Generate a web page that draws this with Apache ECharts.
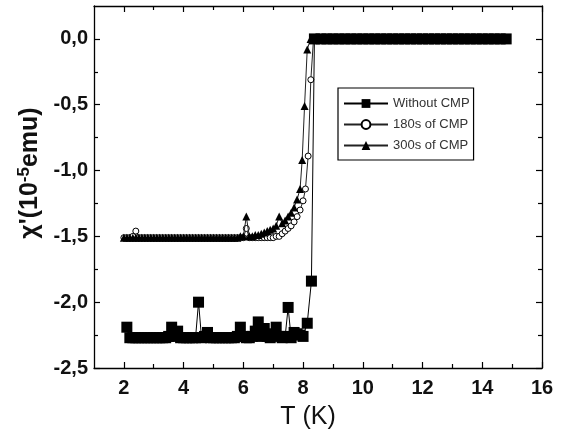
<!DOCTYPE html>
<html><head><meta charset="utf-8">
<script src="https://cdn.jsdelivr.net/npm/echarts@6/dist/echarts.min.js"></script>
<style>html,body{margin:0;padding:0;background:#fff}#c{width:562px;height:435px}</style>
</head><body><div id="c"></div>
<script>
// ---- tick values ----
const xMajorTicks = [2, 4, 6, 8, 10, 12, 14, 16];
const xMinorTicks = [3, 5, 7, 9, 11, 13, 15];
const yMajorTicks = [-2.5, -2, -1.5, -1, -0.5, 0];
const yMinorTicks = [-2.25, -1.75, -1.25, -0.75, -0.25];

// ---- series names ----
const seriesNames = ['Without CMP', '180s of CMP', '300s of CMP'];

// ---- Without CMP ----
const tempWithout = [2.1,2.2,2.3,2.4,2.5,2.6,2.7,2.8,2.9,3.0,3.1,3.2,3.3,3.4,3.5,3.6,3.7,3.8,3.9,4.0,
  4.1,4.2,4.3,4.4,4.5,4.6,4.7,4.8,4.9,5.0,5.1,5.2,5.3,5.4,5.5,5.6,5.7,5.8,5.9,6.0,
  6.1,6.2,6.3,6.4,6.5,6.6,6.7,6.8,6.9,7.0,7.1,7.2,7.3,7.4,7.5,7.6,7.7,7.8,7.9,8.0,
  8.14,8.28,8.38,8.6,8.8,9.0,9.2,9.4,9.6,9.8,10.0,10.2,10.4,10.6,10.8,11.0,11.2,11.4,11.6,11.8,12.0,12.2,12.4,12.6,12.8,13.0,13.2,13.4,13.6,13.8,14.0,14.2,14.4,14.6,14.8];
const chiWithout = [-2.19,-2.27,-2.27,-2.27,-2.27,-2.27,-2.27,-2.27,-2.27,-2.27,-2.27,-2.27,-2.27,-2.27,-2.26,-2.19,-2.26,-2.22,-2.27,-2.27,
  -2.27,-2.27,-2.27,-2.27,-2.00,-2.27,-2.26,-2.23,-2.27,-2.27,-2.27,-2.27,-2.27,-2.27,-2.27,-2.27,-2.27,-2.26,-2.19,-2.26,
  -2.27,-2.27,-2.26,-2.22,-2.15,-2.26,-2.20,-2.26,-2.27,-2.24,-2.19,-2.26,-2.27,-2.26,-2.04,-2.27,-2.23,-2.24,-2.25,-2.26,
  -2.16,-1.84,0,0,0,0,0,0,0,0,0,0,0,0,0,0,0,0,0,0,0,0,0,0,0,0,0,0,0,0,0,0,0,0,0];

// ---- 180s of CMP ----
const temp180 = [2.0,2.1,2.2,2.3,2.4,2.5,2.6,2.7,2.8,2.9,3.0,3.1,3.2,3.3,3.4,3.5,3.6,3.7,3.8,3.9,
  4.0,4.1,4.2,4.3,4.4,4.5,4.6,4.7,4.8,4.9,5.0,5.1,5.2,5.3,5.4,5.5,5.6,5.7,5.8,5.9,
  6.0,6.1,6.2,6.3,6.4,6.5,6.6,6.7,6.8,6.9,7.0,7.1,7.2,7.3,7.4,7.5,7.6,7.7,7.8,7.9,
  8.0,8.08,8.17,8.26,8.35,9.0,11.0,13.0,14.6];
const chi180 = [-1.51,-1.51,-1.51,-1.50,-1.46,-1.51,-1.51,-1.51,-1.51,-1.51,-1.51,-1.51,-1.51,-1.51,-1.51,-1.51,-1.51,-1.51,-1.51,-1.51,
  -1.51,-1.51,-1.51,-1.51,-1.51,-1.51,-1.51,-1.51,-1.51,-1.51,-1.51,-1.51,-1.51,-1.51,-1.51,-1.51,-1.51,-1.51,-1.51,-1.51,
  -1.51,-1.44,-1.51,-1.51,-1.51,-1.51,-1.51,-1.51,-1.51,-1.51,-1.51,-1.50,-1.50,-1.48,-1.46,-1.44,-1.42,-1.39,-1.35,-1.30,
  -1.23,-1.14,-0.89,-0.31,0,0,0,0,0];

// ---- 300s of CMP ----
const temp300 = [2.0,2.1,2.2,2.3,2.4,2.5,2.6,2.7,2.8,2.9,3.0,3.1,3.2,3.3,3.4,3.5,3.6,3.7,3.8,3.9,
  4.0,4.1,4.2,4.3,4.4,4.5,4.6,4.7,4.8,4.9,5.0,5.1,5.2,5.3,5.4,5.5,5.6,5.7,5.8,5.9,
  6.0,6.1,6.2,6.3,6.4,6.5,6.6,6.7,6.8,6.9,7.0,7.1,7.2,7.3,7.4,7.5,7.6,7.7,7.8,7.9,
  7.97,8.05,8.14,8.25,9.0,11.0,13.0,14.6];
const chi300 = [-1.51,-1.51,-1.51,-1.51,-1.51,-1.51,-1.51,-1.51,-1.51,-1.51,-1.51,-1.51,-1.51,-1.51,-1.51,-1.51,-1.51,-1.51,-1.51,-1.51,
  -1.51,-1.51,-1.51,-1.51,-1.51,-1.51,-1.51,-1.51,-1.51,-1.51,-1.51,-1.51,-1.51,-1.51,-1.51,-1.51,-1.51,-1.51,-1.51,-1.50,
  -1.50,-1.35,-1.50,-1.50,-1.49,-1.49,-1.48,-1.47,-1.46,-1.45,-1.44,-1.42,-1.35,-1.40,-1.38,-1.35,-1.32,-1.28,-1.22,-1.14,
  -0.92,-0.51,-0.08,0,0,0,0,0];

const FONT = '"Liberation Sans", Arial, Helvetica, sans-serif';
const INK = '#111';
function pairs(xs, ys) { return xs.map((x, i) => [x, ys[i]]); }

const lineAxis = { show: true, onZero: false, lineStyle: { color: '#000', width: 1.3 } };
const tickStyle = { color: '#000', width: 1.2 };

function xAx(pos, ticks, len, withLine, withLabel) {
  const a = {
    type: 'value', min: 1, max: 16, position: pos,
    axisLine: withLine ? lineAxis : { show: false, onZero: false },
    axisTick: { show: true, inside: true, length: len, customValues: ticks, lineStyle: tickStyle },
    axisLabel: { show: false },
    splitLine: { show: false }
  };
  if (withLabel) {
    a.axisLabel = { show: true, customValues: xMajorTicks, fontSize: 20, fontWeight: 'bold', fontFamily: FONT, color: INK, margin: 10 };
    a.name = 'T (K)';
    a.nameLocation = 'middle';
    a.nameGap = 37;
    a.nameTextStyle = { fontSize: 25, fontFamily: FONT, color: INK, padding: [0, 20, 0, 0] };
  }
  return a;
}
function yAx(pos, ticks, len, withLine, withLabel) {
  const a = {
    type: 'value', min: -2.5, max: 0.25, position: pos,
    axisLine: withLine ? lineAxis : { show: false, onZero: false },
    axisTick: { show: true, inside: true, length: len, customValues: ticks, lineStyle: tickStyle },
    axisLabel: { show: false },
    splitLine: { show: false }
  };
  if (withLabel) {
    a.axisLabel = { show: true, customValues: yMajorTicks, fontSize: 20, fontWeight: 'bold', fontFamily: FONT, color: INK, margin: 6,
      formatter: v => v.toFixed(1).replace('.', ',') };
    a.name = "{a|χ'(10}{s|-5}{a|emu)}";
    a.nameLocation = 'middle';
    a.nameGap = 39;
    a.nameTextStyle = {
      padding: [0, 0, 0, 28],
      rich: {
        a: { fontSize: 25, fontWeight: 'bold', fontFamily: FONT, color: INK, lineHeight: 28 },
        s: { fontSize: 17, fontWeight: 'bold', fontFamily: FONT, color: INK, verticalAlign: 'top', lineHeight: 17 }
      }
    };
  }
  return a;
}

const chart = echarts.init(document.getElementById('c'), null, { renderer: 'canvas' });
chart.setOption({
  animation: false,
  backgroundColor: '#fff',
  grid: { left: 94, right: 20, top: 6, bottom: 62, containLabel: false },
  xAxis: [
    xAx('bottom', xMajorTicks, 6, true, true),
    xAx('bottom', xMinorTicks, 4, false, false),
    xAx('top', xMajorTicks, 6, true, false),
    xAx('top', xMinorTicks, 4, false, false)
  ],
  yAxis: [
    yAx('left', yMajorTicks, 6, true, true),
    yAx('left', yMinorTicks, 4, false, false),
    yAx('right', yMajorTicks, 6, true, false),
    yAx('right', yMinorTicks, 4, false, false)
  ],
  legend: {
    orient: 'vertical', left: 338, top: 88,
    padding: [9, 4, 8, 5],
    itemWidth: 44, itemHeight: 11, itemGap: 8,
    borderColor: '#000', borderWidth: 1.2,
    textStyle: { fontSize: 13, fontFamily: FONT, color: '#333' },
    data: seriesNames
  },
  series: [
    {
      name: seriesNames[1], type: 'line', xAxisIndex: 0, yAxisIndex: 0, z: 2,
      data: pairs(temp180, chi180),
      symbol: 'circle', symbolSize: 6, showAllSymbol: true,
      itemStyle: { color: '#fff', borderColor: '#000', borderWidth: 1 },
      lineStyle: { color: '#222', width: 1 }
    },
    {
      name: seriesNames[2], type: 'line', xAxisIndex: 0, yAxisIndex: 0, z: 3,
      data: pairs(temp300, chi300),
      symbol: 'triangle', symbolSize: 8, showAllSymbol: true,
      itemStyle: { color: '#000', borderWidth: 0 },
      lineStyle: { color: '#222', width: 1 }
    },
    {
      name: seriesNames[0], type: 'line', xAxisIndex: 0, yAxisIndex: 0, z: 4,
      data: pairs(tempWithout, chiWithout),
      symbol: 'rect', symbolSize: 11, showAllSymbol: true,
      itemStyle: { color: '#000', borderWidth: 0 },
      lineStyle: { color: '#000', width: 1 }
    }
  ]
});
</script>
</body></html>
